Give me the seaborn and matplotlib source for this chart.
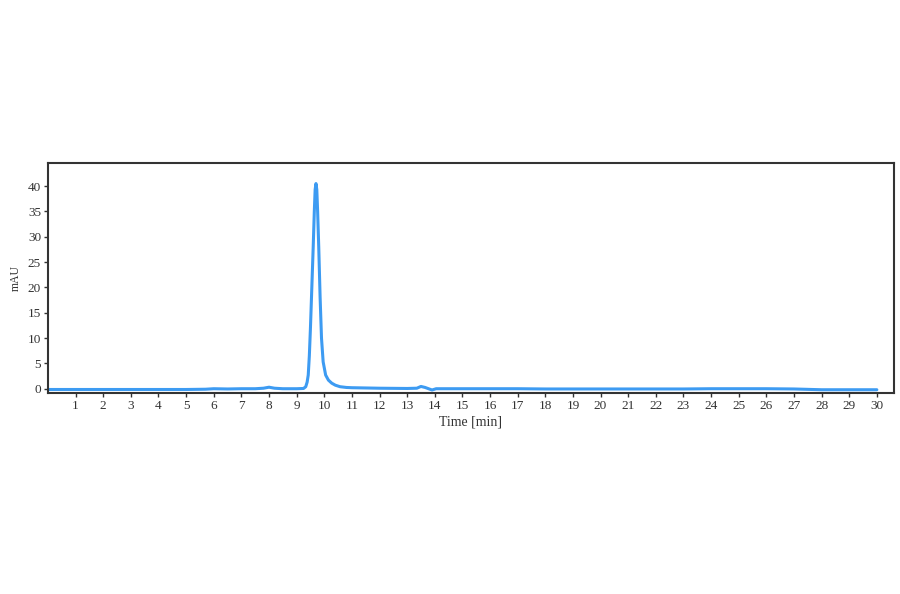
import matplotlib
matplotlib.use("Agg")
import matplotlib.pyplot as plt
import seaborn as sns
import pandas as pd

# Chromatogram trace (time in min, signal in mAU)
time_min = [0.0, 1.0, 2.0, 3.0, 4.0, 5.0, 5.7, 6.0, 6.5, 7.0, 7.5, 7.8, 8.0, 8.2,
            8.5, 9.0, 9.25, 9.33, 9.38, 9.42, 9.46, 9.50, 9.55, 9.60, 9.64, 9.67,
            9.70, 9.73, 9.76, 9.80, 9.85, 9.90, 9.96, 10.05, 10.15, 10.27, 10.4,
            10.57, 10.8, 11.0, 12.0, 13.0, 13.35, 13.5, 13.65, 13.8, 13.9, 14.05,
            15.0, 16.0, 17.0, 18.0, 19.0, 20.0, 21.0, 22.0, 23.0, 24.0, 25.0,
            26.0, 27.0, 28.0, 29.0, 30.0]
signal_mau = [-0.15, -0.15, -0.15, -0.15, -0.15, -0.15, -0.1, 0.0, -0.05, 0.0, 0.0, 0.1, 0.3, 0.1,
              0.0, 0.0, 0.05, 0.4, 1.3, 2.7, 6.5, 12.0, 20.0, 28.0, 35.0, 39.3,
              40.5, 39.3, 35.0, 28.0, 18.0, 10.0, 5.3, 2.7, 1.7, 1.1, 0.7,
              0.4, 0.25, 0.2, 0.1, 0.05, 0.1, 0.45, 0.25, -0.05, -0.25, 0.0,
              0.0, 0.0, 0.0, -0.05, -0.05, -0.05, -0.05, -0.05, -0.05, 0.0, 0.0,
              0.0, -0.05, -0.2, -0.2, -0.2]

x_ticks = list(range(1, 31))
y_ticks = [0, 5, 10, 15, 20, 25, 30, 35, 40]

df = pd.DataFrame({"Time": time_min, "mAU": signal_mau})

sns.set_style("ticks")
plt.rcParams["font.family"] = ["Liberation Serif", "DejaVu Serif"]

fig = plt.figure(figsize=(9, 5.94), dpi=100)
ax = fig.add_axes([0.0533, 0.3379, 0.94, 0.3872])

sns.lineplot(data=df, x="Time", y="mAU", ax=ax, color="#3d9bf2", linewidth=2.2)

ax.set_xlim(0, 30.62)
ax.set_ylim(-0.9, 44.5)
ax.set_xticks(x_ticks)
ax.set_xticklabels([str(t) for t in x_ticks])
ax.set_yticks(y_ticks)
ax.set_yticklabels([str(t) for t in y_ticks])
ax.tick_params(axis="both", labelsize=9.5, length=3, width=1.0, color="#333333",
               labelcolor="#333333", pad=2)
ax.set_xlabel("Time [min]", fontsize=10, color="#333333", labelpad=2)
ax.set_ylabel("mAU", fontsize=8.5, color="#333333", labelpad=4)

for s in ax.spines.values():
    s.set_visible(True)
    s.set_linewidth(1.5)
    s.set_color("#333333")

fig.savefig("out.png", dpi=100, facecolor="white")
